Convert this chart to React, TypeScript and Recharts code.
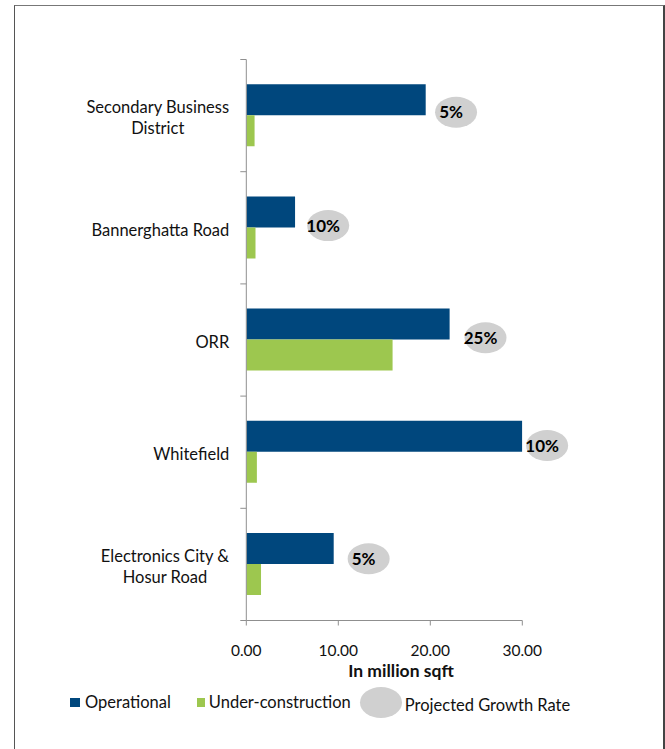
import React from 'react';
import { ComposedChart, Bar, Scatter, XAxis, YAxis, Legend } from 'recharts';

const categories = [
  'Secondary Business\nDistrict',
  'Bannerghatta Road',
  'ORR',
  'Whitefield',
  'Electronics City &\nHosur Road',
];
const operational = [19.5, 5.3, 22.1, 30.0, 9.5];
const underConstruction = [0.9, 1.0, 15.9, 1.15, 1.6];
const growthRate = ['5%', '10%', '25%', '10%', '5%'];
const bubbleX = [22.8, 8.9, 26.0, 32.7, 13.3];
const bubbleY = [0.47, 1.48, 2.48, 3.44, 4.45];
const xTicks = [0, 10, 20, 30];
const legendLabels = ['Operational', 'Under-construction', 'Projected Growth Rate'];
const axisTitle = 'In million sqft';

const data = categories.map((name, i) => ({
  name,
  operational: operational[i],
  underConstruction: underConstruction[i],
  bx: bubbleX[i],
  by: bubbleY[i],
  growth: growthRate[i],
}));

const BLUE = '#00477d';
const GREEN = '#9dc74f';
const BUBBLE = '#d0d0d0';
const AXIS = '#8f8f8f';
const TEXT = '#111';
const FONT = 'Lato, "Open Sans", sans-serif';
const CAT_FONT_SIZE = 16.5;

let ctxCache: CanvasRenderingContext2D | null = null;
const measure = (s: string) => {
  if (!ctxCache) {
    const c = document.createElement('canvas');
    ctxCache = c.getContext('2d');
  }
  if (!ctxCache) return s.length * 8;
  ctxCache.font = `${CAT_FONT_SIZE}px Lato`;
  return ctxCache.measureText(s).width;
};

const TICK_SIZE = 6;
const TICK_MARGIN = 11;

const CategoryTick = (props: any) => {
  const { x, y, payload, index, visibleTicksCount } = props;
  const lines = String(payload.value).split('\n');
  const maxW = Math.max(...lines.map(measure));
  const cxText = x - maxW / 2;
  const half = typeof payload.offset === 'number' && payload.offset > 0 ? payload.offset : 56.1;
  const axisX = x + TICK_SIZE + TICK_MARGIN;
  const isLast = index === (visibleTicksCount ?? categories.length) - 1;
  return (
    <g>
      {lines.map((l, i) => (
        <text
          key={i}
          x={cxText}
          y={y + 2 + (i - (lines.length - 1) / 2) * 21.5}
          dy="0.36em"
          textAnchor="middle"
          fontSize={CAT_FONT_SIZE}
          fontFamily={FONT}
          fill={TEXT}
        >
          {l}
        </text>
      ))}
      <line x1={axisX - TICK_SIZE} x2={axisX} y1={y - half} y2={y - half} stroke={AXIS} />
      {isLast && <line x1={axisX - TICK_SIZE} x2={axisX} y1={y + half} y2={y + half} stroke={AXIS} />}
    </g>
  );
};

const Bubble = (props: any) => {
  const { cx, cy, payload } = props;
  return (
    <g>
      <ellipse cx={cx} cy={cy} rx={21} ry={15.5} fill={BUBBLE} />
      <text
        x={cx - 5}
        y={cy}
        dy="0.36em"
        textAnchor="middle"
        fontSize={17}
        fontWeight={700}
        fontFamily={FONT}
        fill="#000"
      >
        {payload.growth}
      </text>
    </g>
  );
};

const LegendContent = () => (
  <div
    style={{
      display: 'flex',
      alignItems: 'center',
      height: 38,
      paddingLeft: 70,
      fontFamily: FONT,
      fontSize: 16.5,
      color: TEXT,
      whiteSpace: 'nowrap',
    }}
  >
    <span style={{ display: 'inline-block', width: 10, height: 9, background: BLUE, marginRight: 5 }} />
    <span style={{ marginRight: 26 }}>{legendLabels[0]}</span>
    <span style={{ display: 'inline-block', width: 8, height: 9, background: GREEN, marginRight: 4 }} />
    <span style={{ marginRight: 9 }}>{legendLabels[1]}</span>
    <span
      style={{ display: 'inline-block', width: 42, height: 31, borderRadius: '50%', background: BUBBLE, marginRight: 3 }}
    />
    <span style={{ position: 'relative', top: 3 }}>{legendLabels[2]}</span>
  </div>
);

export default function App() {
  return (
    <div
      style={{
        position: 'absolute',
        left: 0,
        top: 0,
        width: 665,
        height: 749,
        overflow: 'hidden',
        background: '#fff',
      }}
    >
      <style>{'.bubbles{clip-path:none !important}'}</style>
      <div
        style={{
          position: 'absolute',
          left: 14,
          top: 5,
          width: 648,
          height: 800,
          borderTop: '1px solid #777',
          borderLeft: '1px solid #555',
          borderRight: '2px solid #444',
        }}
      />
      <div style={{ position: 'absolute', left: 0, top: 0 }}>
        <ComposedChart
          width={665}
          height={749}
          data={data}
          layout="vertical"
          margin={{ top: 59.5, right: 142.7, bottom: 68.5, left: 0 }}
          barCategoryGap="22%"
          barGap={0}
          style={{ fontFamily: FONT }}
        >
          <XAxis
            type="number"
            domain={[0, 30]}
            ticks={xTicks}
            allowDataOverflow
            tickFormatter={(v: number) => v.toFixed(2)}
            stroke={AXIS}
            tickSize={5}
            tickMargin={19}
            height={60}
            tick={{ fontSize: 15.5, fill: TEXT, fontFamily: FONT }}
            label={{
              value: axisTitle,
              position: 'insideBottom',
              offset: 4,
              dx: 16.7,
              fontSize: 17.5,
              fontWeight: 700,
              fill: TEXT,
              fontFamily: FONT,
            }}
          />
          <YAxis
            type="category"
            dataKey="name"
            width={246.3}
            stroke={AXIS}
            tickLine={false}
            tickSize={TICK_SIZE}
            tickMargin={TICK_MARGIN}
            tick={<CategoryTick />}
            interval={0}
          />
          <YAxis yAxisId="b" type="number" dataKey="by" domain={[0, 5]} hide />
          <Bar dataKey="operational" name={legendLabels[0]} fill={BLUE} isAnimationActive={false} />
          <Bar dataKey="underConstruction" name={legendLabels[1]} fill={GREEN} isAnimationActive={false} />
          <Scatter
            className="bubbles"
            yAxisId="b"
            dataKey="bx"
            name={legendLabels[2]}
            shape={<Bubble />}
            isAnimationActive={false}
          />
          <Legend
            layout="horizontal"
            verticalAlign="middle"
            align="center"
            content={<LegendContent />}
            wrapperStyle={{ left: 0, top: 683, width: 665, height: 38 }}
          />
        </ComposedChart>
      </div>
    </div>
  );
}
